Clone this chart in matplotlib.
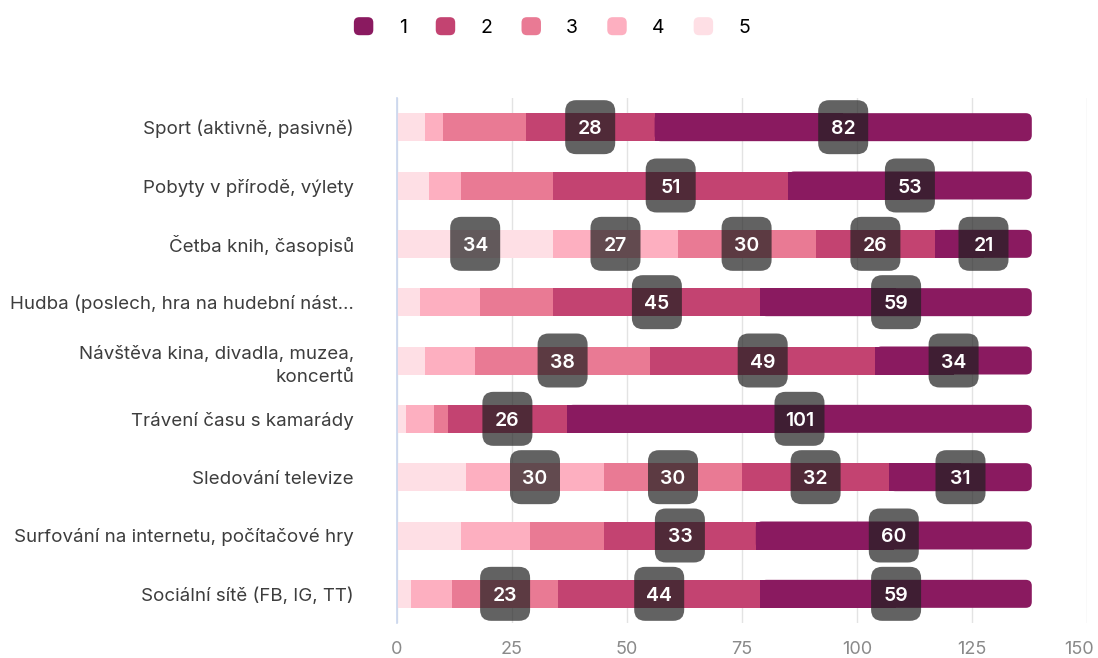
import matplotlib
matplotlib.use('Agg')
import matplotlib.pyplot as plt
from matplotlib.patches import FancyBboxPatch, Patch
from matplotlib.transforms import IdentityTransform, ScaledTranslation
from matplotlib.legend_handler import HandlerPatch

plt.rcParams['font.family'] = ['Inter', 'DejaVu Sans']

categories = [
    "Sport (aktivně, pasivně)",
    "Pobyty v přírodě, výlety",
    "Četba knih, časopisů",
    "Hudba (poslech, hra na hudební nást…",
    "Návštěva kina, divadla, muzea,\nkoncertů",
    "Trávení času s kamarády",
    "Sledování televize",
    "Surfování na internetu, počítačové hry",
    "Sociální sítě (FB, IG, TT)",
]
series_names = ["1", "2", "3", "4", "5"]
s1 = [82, 53, 21, 59, 34, 101, 31, 60, 59]
s2 = [28, 51, 26, 45, 49, 26, 32, 33, 44]
s3 = [18, 20, 30, 16, 38, 3, 30, 16, 23]
s4 = [4, 7, 27, 13, 11, 6, 30, 15, 9]
s5 = [6, 7, 34, 5, 6, 2, 15, 14, 3]
xticks = [0, 25, 50, 75, 100, 125, 150]

colors = {"1": "#8a1a60", "2": "#c34371", "3": "#e97a94", "4": "#fdafc0", "5": "#fedfe5"}
series = {"1": s1, "2": s2, "3": s3, "4": s4, "5": s5}
stack_order = ["5", "4", "3", "2", "1"]

W, H = 1098, 658
fig = plt.figure(figsize=(W / 100, H / 100), dpi=100)
ax = fig.add_axes([397 / W, 35 / H, 690 / W, 525 / H])
ax.set_xlim(0, 150)
ax.set_ylim(len(categories) - 0.5, -0.5)

bar_h = 0.48
ypos = list(range(len(categories)))
lefts = [0] * len(categories)
segments = []
for name in stack_order:
    vals = series[name]
    if name == "1":
        # square left part; rounded right end drawn below
        ax.barh(ypos, [v / 2 for v in vals], left=lefts, height=bar_h,
                color=colors[name], linewidth=0, zorder=2)
    else:
        ax.barh(ypos, vals, left=lefts, height=bar_h, color=colors[name],
                linewidth=0, zorder=2)
    for i, v in enumerate(vals):
        segments.append((name, i, lefts[i], v))
    lefts = [l + v for l, v in zip(lefts, vals)]

ident = IdentityTransform()
# rounded end for the last segment
for name, i, l, v in segments:
    if name != "1":
        continue
    x0, y0 = ax.transData.transform((l, i + bar_h / 2))
    x1, y1 = ax.transData.transform((l + v, i - bar_h / 2))
    p = FancyBboxPatch((x0, y0), x1 - x0, y1 - y0,
                       boxstyle="round,pad=0,rounding_size=6",
                       fc=colors[name], ec='none', transform=ident, zorder=2)
    ax.add_patch(p)

# data labels
for name, i, l, v in segments:
    if v < 21:
        continue
    cx, cy = ax.transData.transform((l + v / 2, i))
    bw, bh = 50, 54
    p = FancyBboxPatch((cx - bw / 2, cy - bh / 2), bw, bh,
                       boxstyle="round,pad=0,rounding_size=11",
                       fc="#202020", alpha=0.7, ec='none', transform=ident,
                       zorder=4, clip_on=False)
    ax.add_patch(p)
    ax.text(l + v / 2, i, str(v), ha='center', va='center_baseline',
            color='white', fontsize=14, fontweight='semibold', zorder=5)

# axes styling
ax.set_xticks(xticks)
ax.set_xticklabels([str(t) for t in xticks], color='#8a8a8a', fontsize=13)
ax.set_yticks(ypos)
ax.set_yticklabels(categories, color='#3d3d3d', fontsize=13.5, ha='right',
                   linespacing=1.5)
ax.tick_params(axis='both', length=0)
ax.tick_params(axis='y', pad=31)
ax.tick_params(axis='x', pad=13)
ax.grid(axis='x', color='#e3e3e3', linewidth=1, zorder=0)
ax.grid(axis='y', visible=False)
ax.set_axisbelow(True)
for s in ['top', 'right', 'bottom']:
    ax.spines[s].set_visible(False)
ax.spines['left'].set_color('#c9d6ee')
ax.spines['left'].set_linewidth(1.2)

# keep the last tick label inside the canvas
last_lbl = ax.get_xticklabels()[-1]
last_lbl.set_transform(last_lbl.get_transform() +
                       ScaledTranslation(-8 / 100, 0, fig.dpi_scale_trans))


class RoundHandler(HandlerPatch):
    def create_artists(self, legend, orig_handle, xdescent, ydescent, width,
                       height, fontsize, trans):
        p = FancyBboxPatch((-xdescent, -ydescent), width, height,
                           boxstyle="round,pad=0,rounding_size=%f" % (height * 0.3),
                           fc=orig_handle.get_facecolor(), ec='none',
                           transform=trans)
        return [p]


handles = [Patch(facecolor=colors[n]) for n in series_names]
leg = fig.legend(handles, series_names, loc='center', ncol=5,
                 bbox_to_anchor=(552 / W, 1 - 27 / H), frameon=False,
                 fontsize=14, handlelength=1.0, handleheight=1.05,
                 handletextpad=1.3, columnspacing=1.5,
                 handler_map={Patch: RoundHandler()})

fig.savefig('out.png', dpi=100)
